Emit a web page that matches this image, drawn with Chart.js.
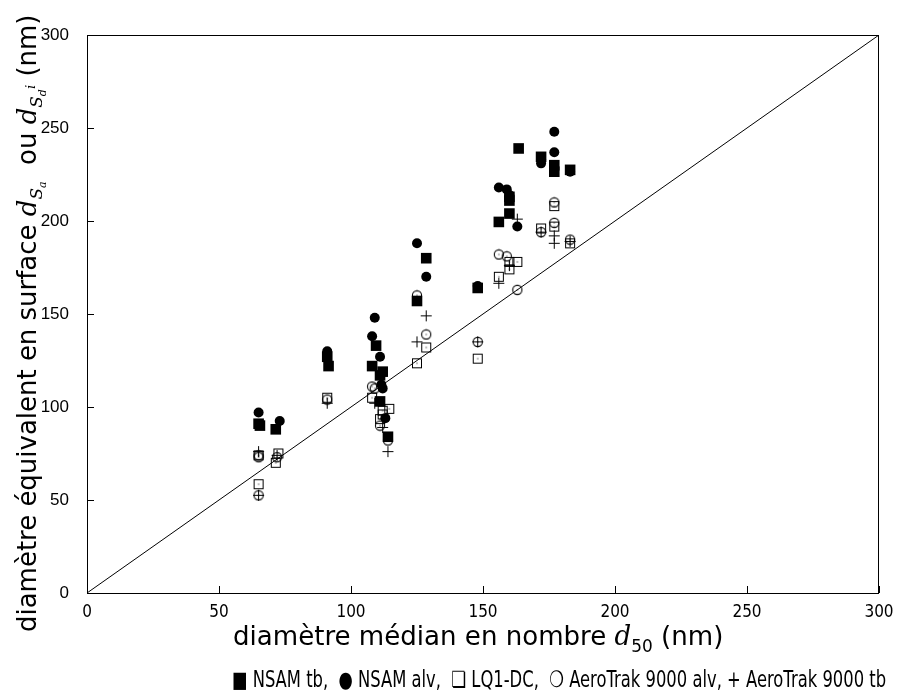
<!DOCTYPE html>
<html>
<head>
<meta charset="utf-8">
<script src="https://cdn.jsdelivr.net/npm/chart.js@4"></script>
<style>
  html, body { margin: 0; padding: 0; background: #fff; }
  #wrap { position: relative; width: 897px; height: 699px; overflow: hidden; }
  #chart { position: absolute; left: 0; top: 0; }
  .lbl { position: absolute; font-family: "DejaVu Sans"; color: #000; white-space: nowrap; transform-origin: 0 0; }
  .m { font-family: "DejaVu Serif", serif; font-style: italic; }
  #xtitle { font-size: 25px; }
  #ytitle { font-size: 25px; }
  #legend { font-size: 20px; }
  sub { font-size: 65%; }
</style>
</head>
<body>
<div id="wrap">
  <canvas id="chart" width="897" height="699"></canvas>
  <div class="lbl" id="xtitle">diamètre médian en nombre <span class="m">d</span><sub>50</sub> (nm)</div>
  <div class="lbl" id="ytitle">diamètre équivalent en surface <span class="m">d<sub>S<sub>a</sub></sub></span>&nbsp; ou <span class="m">d<sub>S<sub>d</sub><sup style="font-size:80%">i</sup></sub></span> (nm)</div>
  <div class="lbl" id="legend">■ NSAM tb,&nbsp; ● NSAM alv,&nbsp; ❏ LQ1-DC,&nbsp; ❍ AeroTrak 9000 alv, + AeroTrak 9000 tb</div>
</div>
<script>
// axis ticks
const tickValues = [0, 50, 100, 150, 200, 250, 300];

// NSAM tb (filled squares)
const nsamTb = [
  [65, 91], [65.5, 90], [71.5, 88], [91, 127], [91.5, 122], [108, 122], [109.5, 133],
  [111, 117], [112, 119], [111, 103], [114, 84], [125, 157], [128.5, 180], [148, 164],
  [156, 199.5], [160, 204], [160, 211], [160, 213], [163.5, 239], [172, 234.5],
  [177, 230], [177, 226.5], [183, 227.5]
];
// NSAM alv (filled circles)
const nsamAlv = [
  [65, 97], [73, 92.5], [91, 130], [108, 138], [109, 148], [111, 127], [111.5, 112],
  [112, 110], [113, 94], [125, 188], [128.5, 170], [148, 165], [156, 218], [159, 217],
  [160, 214], [163, 197], [172, 233], [172, 231], [177, 248], [177, 237], [183, 226.5]
];
// LQ1-DC (open squares)
const lq1dc = [
  [65, 58.5], [65, 74], [72.5, 75], [71.5, 70], [91, 105], [108, 105], [112, 98],
  [114.5, 99], [111, 93.5], [112, 96], [125, 123.5], [128.5, 132], [148, 126],
  [156, 170], [160, 174], [160, 178], [163, 178], [172, 196], [177, 208], [177, 197], [183, 188]
];
// AeroTrak 9000 alv (open circles)
const aeroAlv = [
  [65, 74], [65, 73], [72, 73], [65, 52.5], [91, 104], [108, 111], [109, 110], [111, 90],
  [114, 82], [125, 160], [128.5, 139], [148, 135], [156, 182], [159, 181], [163, 163],
  [172, 194], [177, 210], [177, 199], [183, 190]
];
// AeroTrak 9000 tb (plus)
const aeroTb = [
  [65, 52.5], [65, 76], [72, 74], [91, 102], [109, 102], [112, 89], [114, 76],
  [125, 135], [128.5, 149], [148, 135], [156, 166.5], [160, 176], [163, 201],
  [172, 194], [177, 192], [177, 188], [183, 189]
];
// diagonal y = x
const diagonal = [[0, 0], [300, 300]];

const toXY = arr => arr.map(p => ({ x: p[0], y: p[1] }));

function markSquare() {
  const c = document.createElement("canvas");
  c.width = 12; c.height = 12;
  const g = c.getContext("2d");
  g.strokeStyle = "#000"; g.lineWidth = 1;
  g.strokeRect(1.5, 1.5, 9, 9);
  g.fillStyle = "#000"; g.fillRect(5.5, 5.5, 1, 1);
  return c;
}
function markCircle() {
  const c = document.createElement("canvas");
  c.width = 12; c.height = 12;
  const g = c.getContext("2d");
  g.strokeStyle = "#000"; g.lineWidth = 1.1;
  g.beginPath(); g.arc(6, 6, 4.6, 0, Math.PI * 2); g.stroke();
  g.fillStyle = "#000"; g.fillRect(5.5, 5.5, 1, 1);
  return c;
}

const frame = {
  id: "frame",
  afterDatasetsDraw(chart) {
    const { ctx, chartArea: a, scales } = chart;
    ctx.save();
    ctx.strokeStyle = "#000";
    ctx.lineWidth = 1;
    ctx.strokeRect(a.left + 0.5, a.top + 0.5, a.right - a.left - 1, a.bottom - a.top);
    ctx.beginPath();
    tickValues.forEach(v => {
      const px = Math.round(scales.x.getPixelForValue(v)) + 0.5;
      ctx.moveTo(px, a.bottom); ctx.lineTo(px, a.bottom - 7);
      const py = Math.round(scales.y.getPixelForValue(v)) + 0.5;
      ctx.moveTo(a.left, py); ctx.lineTo(a.left + 7, py);
    });
    ctx.stroke();
    ctx.restore();
  }
};

new Chart(document.getElementById("chart"), {
  type: "scatter",
  data: {
    datasets: [
      { label: "diag", type: "line", data: toXY(diagonal), borderColor: "#000", borderWidth: 1, pointRadius: 0, fill: false },
      { label: "NSAM tb", data: toXY(nsamTb), pointStyle: "rect", pointRadius: 7.5, backgroundColor: "#000", borderColor: "#000", borderWidth: 0 },
      { label: "NSAM alv", data: toXY(nsamAlv), pointStyle: "circle", pointRadius: 5, backgroundColor: "#000", borderColor: "#000", borderWidth: 0 },
      { label: "LQ1-DC", data: toXY(lq1dc), pointStyle: markSquare(), pointRadius: 5 },
      { label: "AeroTrak 9000 alv", data: toXY(aeroAlv), pointStyle: markCircle(), pointRadius: 5 },
      { label: "AeroTrak 9000 tb", data: toXY(aeroTb), pointStyle: "cross", pointRadius: 5.5, borderColor: "#000", borderWidth: 1 }
    ]
  },
  options: {
    responsive: false,
    animation: false,
    layout: { padding: { top: 35, right: 18, left: 0, bottom: 0 } },
    plugins: { legend: { display: false }, tooltip: { enabled: false } },
    scales: {
      x: {
        type: "linear", min: 0, max: 300,
        afterFit: s => { s.height = 106; },
        afterBuildTicks: s => { s.ticks = tickValues.map(v => ({ value: v })); },
        grid: { display: false },
        border: { display: false },
        ticks: { color: "#000", padding: 1, font: { family: "Liberation Sans Narrow, DejaVu Sans Condensed, Liberation Sans", size: 17 } }
      },
      y: {
        type: "linear", min: 0, max: 300,
        afterFit: s => { s.width = 87; },
        afterBuildTicks: s => { s.ticks = tickValues.map(v => ({ value: v })); },
        grid: { display: false },
        border: { display: false },
        ticks: { color: "#000", padding: 10, font: { family: "Liberation Sans", size: 17 } }
      }
    }
  },
  plugins: [frame]
});

// fit the text labels to the reference extents (condensed look)
function fitLabel(id, left, top, width, height, rotate) {
  const el = document.getElementById(id);
  const w = el.offsetWidth, h = el.offsetHeight;
  const sx = width / w;
  if (rotate) {
    el.style.left = left + "px";
    el.style.top = (top + width) + "px";
    el.style.transform = "rotate(-90deg) scale(" + sx + "," + (height / h) + ")";
  } else {
    el.style.left = left + "px";
    el.style.top = top + "px";
    el.style.transform = "scale(" + sx + "," + (height / h) + ")";
  }
}
fitLabel("xtitle", 233, 620, 490, 36, false);
fitLabel("ytitle", 12, 14, 618, 36, true);
fitLabel("legend", 232, 666, 654, 27, false);
</script>
</body>
</html>
